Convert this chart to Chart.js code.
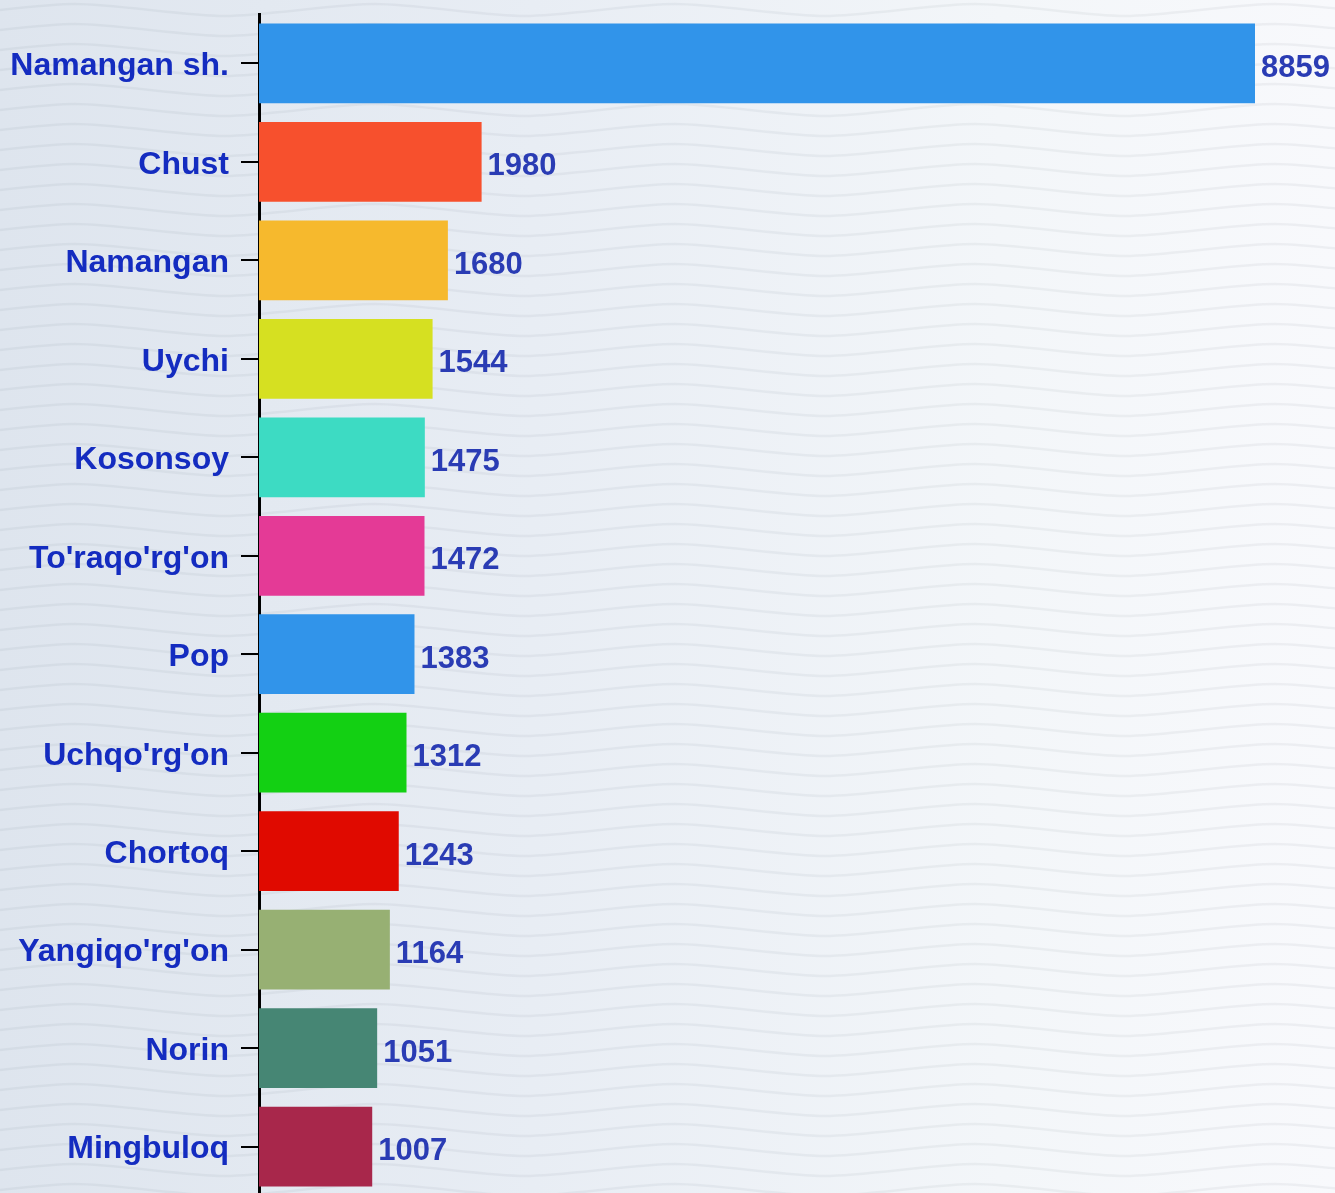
<!DOCTYPE html>
<html>
<head>
<meta charset="utf-8">
<script src="https://cdn.jsdelivr.net/npm/chart.js@4.4.1/dist/chart.umd.min.js"></script>
<style>
html,body{margin:0;padding:0;overflow:hidden}
body{
  width:1335px;height:1193px;
  background-color:#e9eef5;
  background-image:
    url("data:image/svg+xml;utf8,<svg xmlns='http://www.w3.org/2000/svg' width='300' height='20'><path d='M0 10 C75 2,75 2,150 10 S225 18,300 10' fill='none' stroke='rgba(90,100,120,0.07)' stroke-width='2.5'/></svg>"),
    linear-gradient(90deg,#dee5ee 0%,#e8edf4 40%,#f3f6f9 75%,#f8f9fc 100%);
}
#wrap{position:absolute;left:0;top:-17px;width:1335px;height:1244px}
</style>
</head>
<body>
<div id="wrap"><canvas id="myChart"></canvas></div>
<script>
var districts=["Namangan sh.","Chust","Namangan","Uychi","Kosonsoy","To'raqo'rg'on","Pop","Uchqo'rg'on","Chortoq","Yangiqo'rg'on","Norin","Mingbuloq"]
var counts=[8859,1980,1680,1544,1475,1472,1383,1312,1243,1164,1051,1007]
var barColors=["#3194ea","#f7502d","#f6b92d","#d6e021","#3ddbc3","#e43a96","#3194ea","#13d013","#e00a00","#97b073","#468674","#a8274b"]

var valueLabels={
  id:"valueLabels",
  afterDatasetsDraw:function(chart){
    var ctx=chart.ctx
    var meta=chart.getDatasetMeta(0)
    ctx.save()
    ctx.font="bold 31px 'Liberation Sans', Arial, sans-serif"
    ctx.fillStyle="#2a3cb4"
    ctx.textAlign="left"
    ctx.textBaseline="middle"
    meta.data.forEach(function(bar,i){
      ctx.fillText(counts[i],bar.x+6,bar.y+5)
    })
    ctx.restore()
  }
}

var ctx=document.getElementById("myChart")
var myChart=new Chart(ctx,{
  type:"bar",
  data:{
    labels:districts,
    datasets:[{
      data:counts,
      backgroundColor:barColors,
      borderWidth:0,
      categoryPercentage:0.9,
      barPercentage:0.9
    }]
  },
  options:{
    indexAxis:"y",
    responsive:true,
    maintainAspectRatio:false,
    animation:false,
    layout:{padding:{top:0,right:80,bottom:0,left:0}},
    plugins:{legend:{display:false},tooltip:{enabled:false}},
    scales:{
      x:{display:false,min:0,max:Math.max.apply(null,counts)},
      y:{
        border:{display:true,color:"#000",width:3},
        grid:{display:true,offset:false,drawOnChartArea:false,drawTicks:true,tickLength:18,color:"#000",lineWidth:2},
        ticks:{
          padding:12,
          labelOffset:3,
          color:"#142cc0",
          font:{family:"'Liberation Sans', Arial, sans-serif",size:32,weight:"bold"}
        },
        afterFit:function(scale){scale.width=259}
      }
    }
  },
  plugins:[valueLabels]
})
</script>
</body>
</html>
